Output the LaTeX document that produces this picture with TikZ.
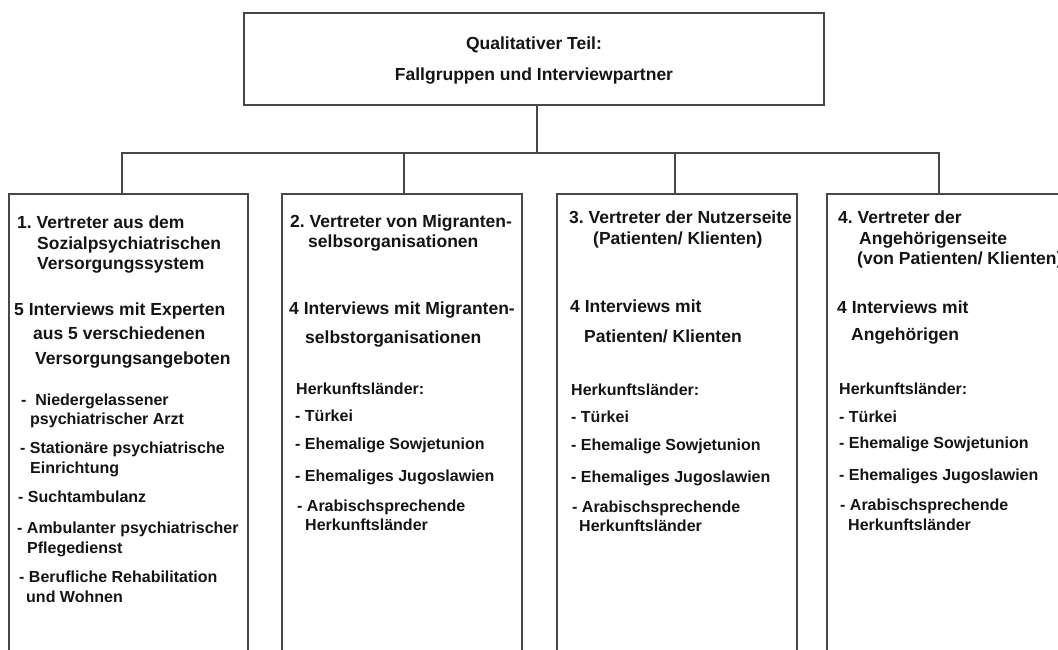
\documentclass[tikz,border=0pt]{standalone}
\usepackage{fontspec}
\setmainfont{Liberation Sans}
\begin{document}
\frenchspacing
\begin{tikzpicture}[x=1pt,y=-1pt,
  frame/.style={draw=black!72,line width=1.6pt,rectangle,inner sep=0,outer sep=0,anchor=north west},
  link/.style={draw=black!72,line width=1.6pt},
  ttl/.style={anchor=base,inner sep=0,font=\bfseries\fontsize{17.5}{20}\selectfont,text=black!92},
  hd/.style={anchor=base west,inner sep=0,font=\bfseries\fontsize{17.5}{20}\selectfont,text=black!92},
  li/.style={anchor=base west,inner sep=0,font=\bfseries\fontsize{16}{19}\selectfont,text=black!92}]
\useasboundingbox (0,0) rectangle (1058,650);
\clip (0,0) rectangle (1058,650);
% boxes
\node[frame,minimum width=580,minimum height=92] (top) at (244,13) {};
\node[frame,minimum width=239,minimum height=520] (b1) at (9,194) {};
\node[frame,minimum width=240,minimum height=520] (b2) at (282,194) {};
\node[frame,minimum width=240,minimum height=520] (b3) at (557,194) {};
\node[frame,minimum width=240,minimum height=520] (b4) at (827,194) {};
% connectors
\coordinate (bus) at (537,153);
\coordinate (d1) at (122,194);
\coordinate (d2) at (404,194);
\coordinate (d3) at (675,194);
\coordinate (d4) at (939,194);
\draw[link] (top.south -| bus) -- (bus);
\draw[link] (bus) -| (d1);
\draw[link] (bus) -| (d2);
\draw[link] (bus) -| (d3);
\draw[link] (bus) -| (d4);
% title
\node[ttl] (t1) at (534,50) {Qualitativer Teil:};
\node[ttl] (t2) at (534,81) {Fallgruppen und Interviewpartner};
% box 1
\node[hd] (a1) at (17,228) {1. Vertreter aus dem};
\node[hd] (a2) at (37,249) {Sozialpsychiatrischen};
\node[hd] (a3) at (37,269) {Versorgungssystem};
\node[hd] (a4) at (14,315) {5 Interviews mit Experten};
\node[hd] (a5) at (33,339) {aus 5 verschiedenen};
\node[hd] (a6) at (35,364) {Versorgungsangeboten};
\node[li] (a7) at (21,405) {-\hspace{0.55em}Niedergelassener};
\node[li] (a8) at (30,424) {psychiatrischer Arzt};
\node[li] (a9) at (20,453) {- Stationäre psychiatrische};
\node[li] (a10) at (30,473) {Einrichtung};
\node[li] (a11) at (18,502) {- Suchtambulanz};
\node[li] (a12) at (17,533) {- Ambulanter psychiatrischer};
\node[li] (a13) at (27,553) {Pflegedienst};
\node[li] (a14) at (19,582) {- Berufliche Rehabilitation};
\node[li] (a15) at (26,602) {und Wohnen};
% box 2
\node[hd] (m1) at (290,227) {2. Vertreter von Migranten-};
\node[hd] (m2) at (308,247) {selbsorganisationen};
\node[hd] (m3) at (289,314) {4 Interviews mit Migranten-};
\node[hd] (m4) at (305,343) {selbstorganisationen};
\node[li] (m5) at (296,394) {Herkunftsländer:};
\node[li] (m6) at (295,421) {- Türkei};
\node[li] (m7) at (295,449) {- Ehemalige Sowjetunion};
\node[li] (m8) at (295,481) {- Ehemaliges Jugoslawien};
\node[li] (m9) at (297,511) {- Arabischsprechende};
\node[li] (m10) at (305,530) {Herkunftsländer};
% box 3
\node[hd] (n1) at (569,223) {3. Vertreter der Nutzerseite};
\node[hd] (n2) at (593,244) {(Patienten/ Klienten)};
\node[hd] (n3) at (570,312) {4 Interviews mit};
\node[hd] (n4) at (584,342) {Patienten/ Klienten};
\node[li] (n5) at (571,395) {Herkunftsländer:};
\node[li] (n6) at (571,422) {- Türkei};
\node[li] (n7) at (571,450) {- Ehemalige Sowjetunion};
\node[li] (n8) at (571,482) {- Ehemaliges Jugoslawien};
\node[li] (n9) at (572,512) {- Arabischsprechende};
\node[li] (n10) at (579,531) {Herkunftsländer};
% box 4
\node[hd] (g1) at (838,223) {4. Vertreter der};
\node[hd] (g2) at (859,244) {Angehörigenseite};
\node[hd] (g3) at (857,264) {(von Patienten/ Klienten)};
\node[hd] (g4) at (837,313) {4 Interviews mit};
\node[hd] (g5) at (851,340) {Angehörigen};
\node[li] (g6) at (839,394) {Herkunftsländer:};
\node[li] (g7) at (839,422) {- Türkei};
\node[li] (g8) at (839,448) {- Ehemalige Sowjetunion};
\node[li] (g9) at (839,480) {- Ehemaliges Jugoslawien};
\node[li] (g10) at (840,510) {- Arabischsprechende};
\node[li] (g11) at (848,530) {Herkunftsländer};
\end{tikzpicture}
\end{document}
